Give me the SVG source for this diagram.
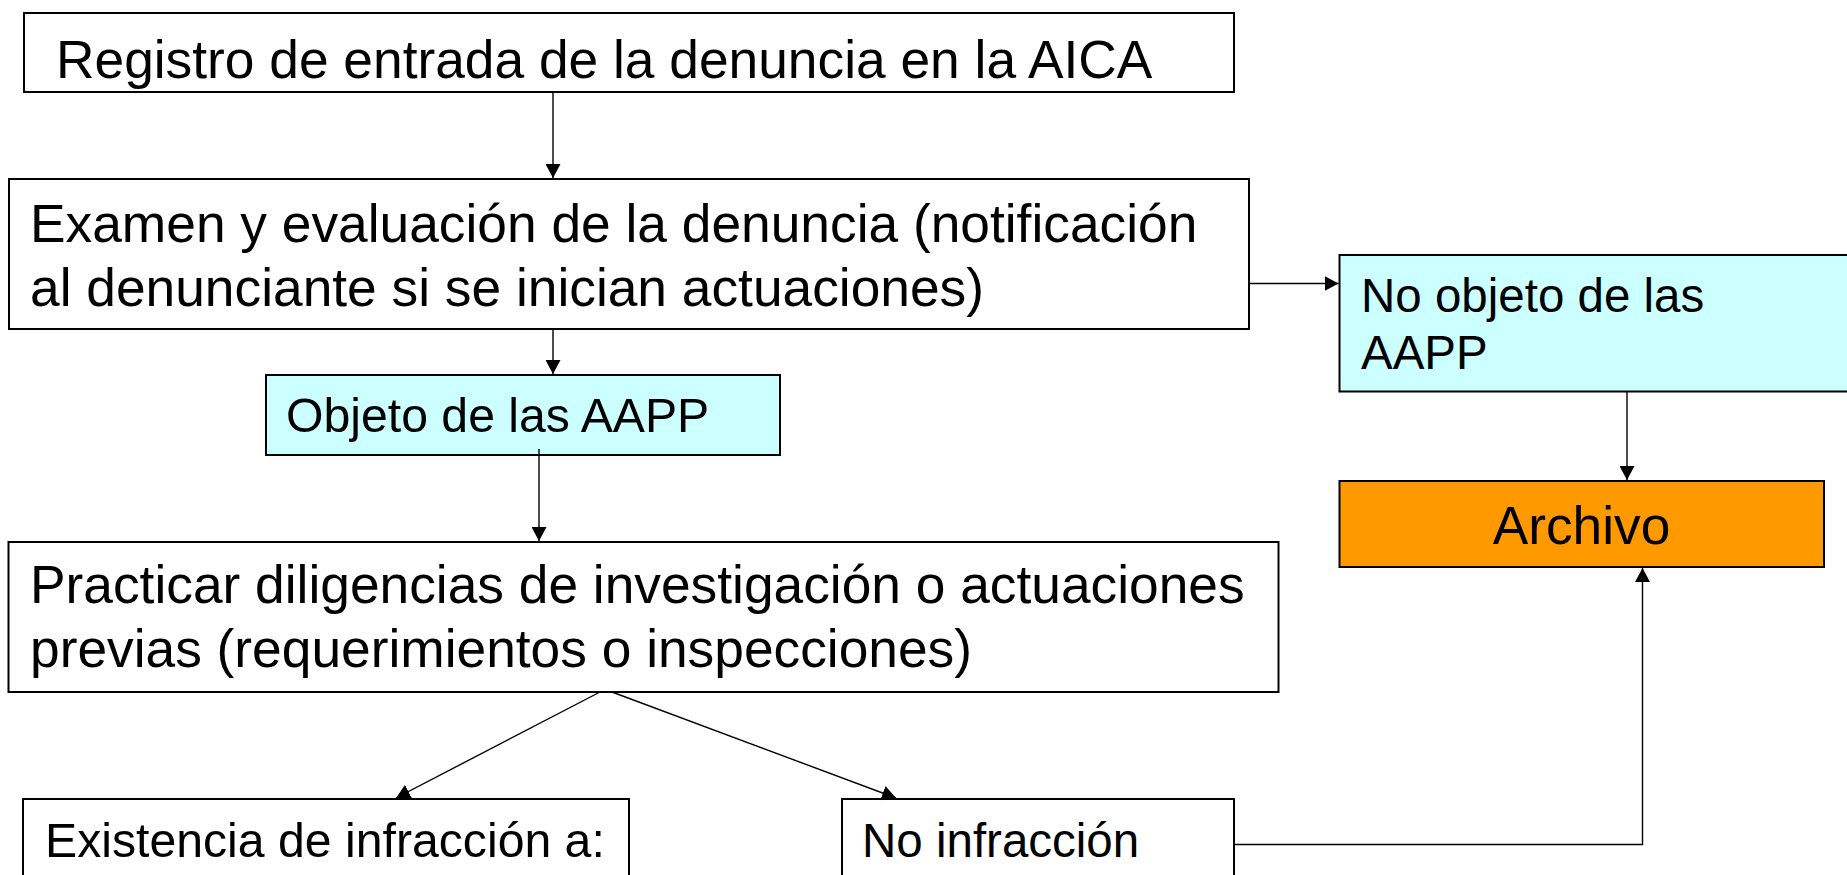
<svg xmlns="http://www.w3.org/2000/svg" width="1847" height="875" viewBox="0 0 1847 875">
<style>
.box{stroke:#000;stroke-width:2;fill:#fff}
.cyan{fill:#CCFFFF}
.orange{fill:#FF9900}
.t{font-family:"Liberation Sans",Arial,sans-serif;fill:#000}
.big{font-size:53.3px}
.small{font-size:47.5px}
.mid{font-size:48.2px}
.conn{stroke:#000;stroke-width:1.4;fill:none}
</style>
<defs>
<marker id="arr" viewBox="0 0 14 15" refX="14" refY="7.5" markerWidth="14" markerHeight="15" markerUnits="userSpaceOnUse" orient="auto">
<path d="M0,0 L14,7.5 L0,15 Z" fill="#000"/>
</marker>
</defs>
<rect width="1847" height="875" fill="#fff"/>
<g id="n1">
<rect class="box" x="24" y="13" width="1210" height="79"/>
<text class="t big" x="56" y="78">Registro de entrada de la denuncia en la AICA</text>
</g>
<g id="n2">
<rect class="box" x="9" y="179" width="1240" height="150"/>
<text class="t big" x="30" y="241.5">Examen y evaluación de la denuncia (notificación</text>
<text class="t big" x="30" y="305.5">al denunciante si se inician actuaciones)</text>
</g>
<g id="n3">
<rect class="box cyan" x="266" y="375" width="514" height="80"/>
<text class="t mid" x="286" y="431.5">Objeto de las AAPP</text>
</g>
<g id="n4">
<rect class="box" x="8.5" y="542" width="1270" height="150"/>
<text class="t big" x="30" y="602.5">Practicar diligencias de investigación o actuaciones</text>
<text class="t big" x="30" y="666.5">previas (requerimientos o inspecciones)</text>
</g>
<g id="n5">
<rect class="box" x="23" y="799" width="606" height="120"/>
<text class="t mid" x="45" y="856.5">Existencia de infracción a:</text>
</g>
<g id="n6">
<rect class="box" x="842" y="799" width="392" height="120"/>
<text class="t small" x="862" y="856.5">No infracción</text>
</g>
<g id="n7">
<rect class="box cyan" x="1339.5" y="255" width="560" height="136.5"/>
<text class="t small" x="1361" y="311.5">No objeto de las</text>
<text class="t small" x="1361" y="369.3">AAPP</text>
</g>
<g id="n8">
<rect class="box orange" x="1339.5" y="481" width="484.5" height="86"/>
<text class="t big" x="1581.5" y="544" text-anchor="middle">Archivo</text>
</g>
<g id="connectors">
<line class="conn" x1="553" y1="92" x2="553" y2="178" marker-end="url(#arr)"/>
<line class="conn" x1="553" y1="329" x2="553" y2="374" marker-end="url(#arr)"/>
<line class="conn" x1="539" y1="449" x2="539" y2="541" marker-end="url(#arr)"/>
<line class="conn" x1="1249" y1="283.5" x2="1338.5" y2="283.5" marker-end="url(#arr)"/>
<line class="conn" x1="1627" y1="391.5" x2="1627" y2="480" marker-end="url(#arr)"/>
<line class="conn" x1="600" y1="692" x2="396" y2="798" marker-end="url(#arr)"/>
<line class="conn" x1="612" y1="692" x2="896" y2="798" marker-end="url(#arr)"/>
<polyline class="conn" points="1234,844.5 1642.5,844.5 1642.5,568" marker-end="url(#arr)"/>
</g>
</svg>
